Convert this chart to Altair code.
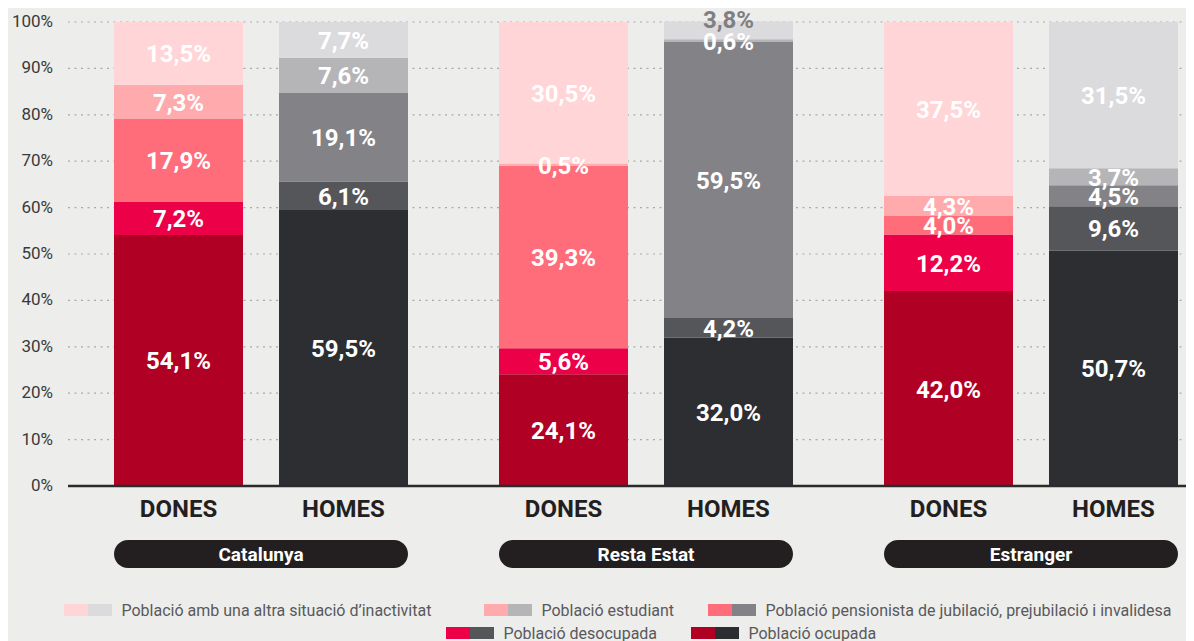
import altair as alt
import pandas as pd

# ---------------- data ----------------
groups = ["Catalunya", "Resta Estat", "Estranger"]
sexes = ["DONES", "HOMES"]
categories = [
    "Població ocupada",
    "Població desocupada",
    "Població pensionista de jubilació, prejubilació i invalidesa",
    "Població estudiant",
    "Població amb una altra situació d’inactivitat",
]
# values stacked bottom -> top, in category order
catalunya_dones = [54.1, 7.2, 17.9, 7.3, 13.5]
catalunya_homes = [59.5, 6.1, 19.1, 7.6, 7.7]
resta_dones = [24.1, 5.6, 39.3, 0.5, 30.5]
resta_homes = [32.0, 4.2, 59.5, 0.6, 3.8]
estranger_dones = [42.0, 12.2, 4.0, 4.3, 37.5]
estranger_homes = [50.7, 9.6, 4.5, 3.7, 31.5]

dones_colors = ["#b00024", "#ec0048", "#ff6d7b", "#ffaaad", "#ffd5d7"]
homes_colors = ["#2d2e32", "#55565a", "#838287", "#b5b5b7", "#dbdadd"]

y_ticks = list(range(0, 101, 10))
y_tick_labels = [f"{t}%" for t in y_ticks]

# legend order (category indices)
legend_order = [4, 3, 2, 1, 0]

# ---------------- layout constants ----------------
PLOT_W, PLOT_H = 1118, 464
BAR_W = 129
FIRST_CENTER = 110.5
SEX_STEP = 165
GROUP_STEP = 385
BG = "#ededeb"
FONT = "Roboto"

LEGEND_X = [-4, 416, 640, 378, 623]
LEGEND_ROW = [0, 0, 0, 1, 1]
LEGEND_ROW_Y = [589, 612]   # pixels below plot top
SW_W, SW_H = 24, 12
TEXT_OFF = 57.5

series = {
    ("Catalunya", "DONES"): catalunya_dones,
    ("Catalunya", "HOMES"): catalunya_homes,
    ("Resta Estat", "DONES"): resta_dones,
    ("Resta Estat", "HOMES"): resta_homes,
    ("Estranger", "DONES"): estranger_dones,
    ("Estranger", "HOMES"): estranger_homes,
}


def fmt(v):
    return f"{v:.1f}".replace(".", ",") + "%"


def py_to_y(py):
    """pixel offset from plot top -> y-scale units"""
    return (PLOT_H - py) / PLOT_H * 100


keys, key_colors = [], []
for si, s in enumerate(sexes):
    pal = dones_colors if si == 0 else homes_colors
    for ci in range(len(categories)):
        keys.append(f"{s}|{ci}")
        key_colors.append(pal[ci])
for si, s in enumerate(sexes):
    pal = dones_colors if si == 0 else homes_colors
    for ci in range(len(categories)):
        keys.append(pal[ci])
        key_colors.append(pal[ci])

rows, xlab_rows = [], []
for gi, g in enumerate(groups):
    for si, s in enumerate(sexes):
        vals = series[(g, s)]
        xc = FIRST_CENTER + gi * GROUP_STEP + si * SEX_STEP
        xlab_rows.append(dict(xc=xc, text=s))
        base = 0.0
        for ci, v in enumerate(vals):
            rows.append(
                dict(
                    group=g, sex=s, cat=categories[ci], key=f"{s}|{ci}",
                    value=v, y0=base, y1=base + v, mid=base + v / 2,
                    xl=xc - BAR_W / 2, xr=xc + BAR_W / 2, xc=xc,
                    label=fmt(v),
                    raised=(ci == len(vals) - 1 and v < 5),
                )
            )
            base += v
bars_df = pd.DataFrame(rows)
xlab_df = pd.DataFrame(xlab_rows)
ytick_df = pd.DataFrame({"t": y_ticks, "label": y_tick_labels})

pill_rows = []
for gi, g in enumerate(groups):
    left = FIRST_CENTER + gi * GROUP_STEP - BAR_W / 2
    right = FIRST_CENTER + gi * GROUP_STEP + SEX_STEP + BAR_W / 2
    pill_rows.append(dict(group=g, xl=left, xr=right, xc=(left + right) / 2))
pill_df = pd.DataFrame(pill_rows)

leg_sw, leg_tx = [], []
for i, ci in enumerate(legend_order):
    x0 = LEGEND_X[i]
    yc = LEGEND_ROW_Y[LEGEND_ROW[i]]
    for k, pal in enumerate([dones_colors, homes_colors]):
        leg_sw.append(dict(x0=x0 + k * SW_W, x1=x0 + (k + 1) * SW_W,
                           ya=py_to_y(yc - 7), yb=py_to_y(yc - 7 + SW_H),
                           key=pal[ci]))
    leg_tx.append(dict(x=x0 + TEXT_OFF, y=py_to_y(yc), text=categories[ci]))
leg_sw_df = pd.DataFrame(leg_sw)
leg_tx_df = pd.DataFrame(leg_tx)

# ---------------- scales ----------------
xs = alt.Scale(domain=[0, PLOT_W], nice=False, zero=False)
ys = alt.Scale(domain=[0, 100], nice=False)
cs = alt.Scale(domain=keys, range=key_colors)

# gridlines (dotted)
grid = alt.Chart(ytick_df).transform_filter("datum.t > 0").mark_rule(
    strokeDash=[2, 4.5], color="#a9a9a9", strokeWidth=1.2,
).encode(
    y=alt.Y("t:Q", scale=ys, axis=None),
    x=alt.value(0),
    x2=alt.value(PLOT_W),
)

ytick_text = alt.Chart(ytick_df).mark_text(
    font=FONT, fontSize=17, color="#3a3a3a", align="right", baseline="middle",
).encode(
    y=alt.Y("t:Q", scale=ys, axis=None),
    x=alt.value(-15),
    text="label:N",
)

bars = alt.Chart(bars_df).mark_rect().encode(
    x=alt.X("xl:Q", scale=xs, axis=None),
    x2="xr:Q",
    y=alt.Y("y0:Q", scale=ys, axis=None),
    y2="y1:Q",
    color=alt.Color("key:N", scale=cs, legend=None),
)

baseline = alt.Chart(ytick_df).transform_filter("datum.t == 0").mark_rule(
    color="#2b2b2b", strokeWidth=2.5,
).encode(
    y=alt.Y("t:Q", scale=ys, axis=None),
    x=alt.value(0),
    x2=alt.value(PLOT_W),
)

xlabels = alt.Chart(xlab_df).mark_text(
    font=FONT, fontSize=24, fontWeight="bold", color="#231f20",
    align="center", baseline="alphabetic",
).encode(
    x=alt.X("xc:Q", scale=xs, axis=None),
    y=alt.value(PLOT_H + 31),
    text="text:N",
)

labels = alt.Chart(bars_df).transform_filter("!datum.raised").mark_text(
    font=FONT, fontSize=24, fontWeight="bold", color="white",
    baseline="middle", align="center", dy=2,
).encode(
    x=alt.X("xc:Q", scale=xs, axis=None),
    y=alt.Y("mid:Q", scale=ys, axis=None),
    text="label:N",
)

labels_raised = alt.Chart(bars_df).transform_filter("datum.raised").mark_text(
    font=FONT, fontSize=24, fontWeight="bold", color="#7f7f82",
    baseline="middle", align="center", dy=-9,
).encode(
    x=alt.X("xc:Q", scale=xs, axis=None),
    y=alt.Y("mid:Q", scale=ys, axis=None),
    text="label:N",
)

pills = alt.Chart(pill_df).mark_rect(cornerRadius=14, color="#231f20").encode(
    x=alt.X("xl:Q", scale=xs, axis=None),
    x2="xr:Q",
    y=alt.value(518),
    y2=alt.value(546),
)

pill_text = alt.Chart(pill_df).mark_text(
    font=FONT, fontSize=19, fontWeight="bold", color="white",
    baseline="middle", align="center",
).encode(
    x=alt.X("xc:Q", scale=xs, axis=None),
    y=alt.value(533),
    text="group:N",
)

legend_sw = alt.Chart(leg_sw_df).mark_rect().encode(
    x=alt.X("x0:Q", scale=xs, axis=None),
    x2="x1:Q",
    y=alt.Y("ya:Q", scale=ys, axis=None),
    y2="yb:Q",
    color=alt.Color("key:N", scale=cs, legend=None),
)

legend_tx = alt.Chart(leg_tx_df).mark_text(
    font=FONT, fontSize=16, color="#58595b", align="left", baseline="middle",
).encode(
    x=alt.X("x:Q", scale=xs, axis=None),
    y=alt.Y("y:Q", scale=ys, axis=None),
    text="text:N",
)

chart = alt.layer(
    grid, ytick_text, bars, baseline, xlabels, labels, labels_raised,
    pills, pill_text, legend_sw, legend_tx
).properties(
    width=PLOT_W,
    height=PLOT_H,
    background=BG,
    padding={"left": 60, "top": 14, "right": 0, "bottom": 160},
    autosize=alt.AutoSizeParams(type="none"),
).configure_view(stroke=None)

chart.save("out.html", embed_options={"renderer": "svg", "actions": False})
